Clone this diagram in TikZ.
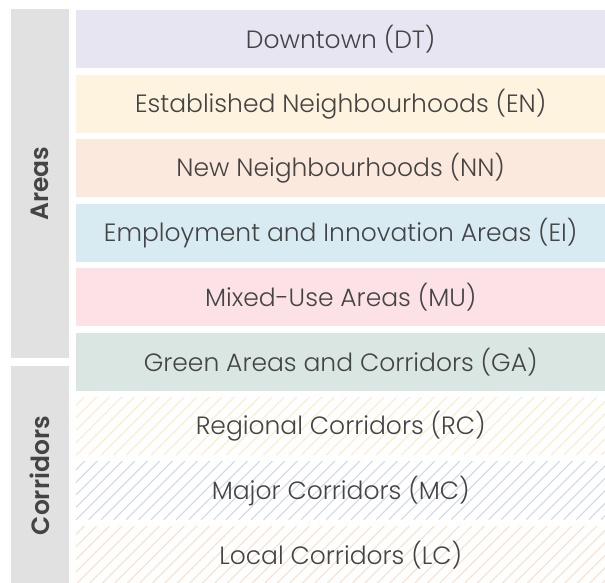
\documentclass[tikz,border=0pt]{standalone}
\usepackage{fontspec}
\setmainfont{Poppins Light}[BoldFont={Poppins SemiBold}]
\usetikzlibrary{positioning}

\definecolor{labelgrey}{HTML}{444444}
\definecolor{groupgrey}{HTML}{E1E1E1}
\definecolor{dtfill}{HTML}{E7E5F1}
\definecolor{enfill}{HTML}{FEF3DF}
\definecolor{nnfill}{HTML}{FCE9DD}
\definecolor{eifill}{HTML}{D9EBF2}
\definecolor{mufill}{HTML}{FCE2E6}
\definecolor{gafill}{HTML}{DAE6E1}
\definecolor{rcline}{HTML}{FCEBC8}
\definecolor{mcline}{HTML}{D0D7E7}
\definecolor{lcline}{HTML}{FADFCB}

\begin{document}
\begin{tikzpicture}[
  x=1pt, y=-1pt,
  every node/.style={inner sep=0pt, text=labelgrey},
  zone/.style={rectangle, minimum width=529pt, minimum height=58pt,
    anchor=north west, font=\fontsize{25}{28}\selectfont},
  hatched/.style={zone, path picture={
      \foreach \k in {-6,...,44}
        \draw[#1, line width=1.1pt]
          ([xshift=\k*12.5pt]path picture bounding box.south west) -- ++(60pt,60pt);}},
  group/.style={rectangle, fill=groupgrey, minimum width=58pt, anchor=north west},
  grouplabel/.style={rotate=90, font=\fontsize{25}{28}\selectfont\bfseries}]

  \useasboundingbox (0,0) rectangle (605,583);

  % ---- grey group bars ------------------------------------------------------
  \node[group, minimum height=349pt] (areas) at (11,9)   {};
  \node[group, minimum height=219pt] (corr)  at (11,366) {};
  \node[grouplabel] (areaslbl) at (areas.center) {Areas};
  \node[grouplabel] (corrlbl)  at (corr.center)  {Corridors};

  % ---- plain zones, top to bottom --------------------------------------------
  \node[zone, fill=dtfill] (DT) at (76,10)    {Downtown (DT)};
  \node[zone, fill=enfill] (EN) at (76,74.5)  {Established Neighbourhoods (EN)};
  \node[zone, fill=nnfill] (NN) at (76,139)   {New Neighbourhoods (NN)};
  \node[zone, fill=eifill] (EI) at (76,203.5) {Employment and Innovation Areas (EI)};
  \node[zone, fill=mufill] (MU) at (76,268)   {Mixed-Use Areas (MU)};
  \node[zone, fill=gafill] (GA) at (76,332.5) {Green Areas and Corridors (GA)};

  % ---- hatched corridor zones -----------------------------------------------
  \node[hatched=rcline] (RC) at (76,397)   {Regional Corridors (RC)};
  \node[hatched=mcline] (MC) at (76,461.5) {Major Corridors (MC)};
  \node[hatched=lcline] (LC) at (76,526)   {Local Corridors (LC)};
\end{tikzpicture}
\end{document}
